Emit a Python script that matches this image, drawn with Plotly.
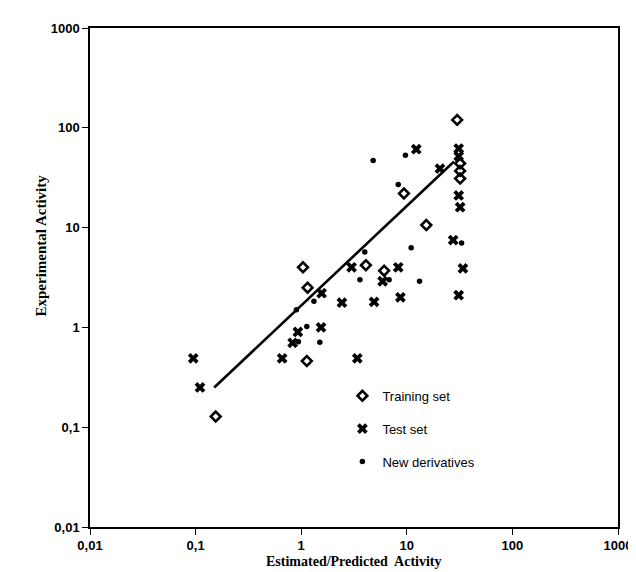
import plotly.graph_objects as go

# Training set (diamonds)
train_x = [30, 32, 32, 32, 9.4, 15.3, 6.1, 4.1, 1.04, 1.15, 1.13, 0.155]
train_y = [120, 44, 37, 31, 22, 10.6, 3.7, 4.2, 4.0, 2.5, 0.46, 0.128]

# Test set (crosses)
test_x = [31, 31, 12.3, 20.6, 31, 32, 27.5, 34, 31, 8.3, 5.9, 3.0, 1.56, 2.43, 4.9, 8.7,
          0.93, 1.54, 0.83, 0.095, 0.11, 0.66, 3.4]
test_y = [62, 52, 61, 39, 21, 16, 7.5, 3.9, 2.1, 4.0, 2.9, 4.0, 2.2, 1.77, 1.8, 2.0,
          0.9, 1.0, 0.7, 0.49, 0.25, 0.49, 0.49]

# New derivatives (dots)
new_x = [9.7, 4.8, 8.3, 11, 13.2, 6.8, 4.0, 3.6, 1.32, 0.9, 0.94, 1.5, 33, 1.13]
new_y = [53, 47, 27, 6.3, 2.9, 3.0, 5.7, 3.0, 1.83, 1.5, 0.72, 0.71, 7, 1.02]

# Regression line
fit_x = [0.15, 28]
fit_y = [0.25, 46]

tick_vals = [0.01, 0.1, 1, 10, 100, 1000]
tick_text = ["0,01", "0,1", "1", "10", "100", "1000"]

fig = go.Figure()
fig.add_trace(go.Scatter(x=fit_x, y=fit_y, mode="lines", line=dict(color="black", width=2.6),
                         showlegend=False, hoverinfo="skip"))
fig.add_trace(go.Scatter(x=train_x, y=train_y, mode="markers", name="Training set",
                         legendgroup="a",
                         marker=dict(symbol="diamond-open", size=7.5, color="black",
                                     line=dict(width=2.6, color="black"))))
fig.add_trace(go.Scatter(x=test_x, y=test_y, mode="markers", name="Test set",
                         legendgroup="b",
                         marker=dict(symbol="x", size=9.5, color="black",
                                     line=dict(width=0))))
fig.add_trace(go.Scatter(x=new_x, y=new_y, mode="markers", name="New derivatives",
                         legendgroup="c",
                         marker=dict(symbol="circle", size=5.5, color="black")))

axis_common = dict(type="log", range=[-2, 3], tickvals=tick_vals, ticktext=tick_text,
                   showgrid=False, zeroline=False, showline=True, linecolor="black",
                   linewidth=1.5, mirror=True, ticks="outside", ticklen=6,
                   tickcolor="black",
                   tickfont=dict(family="Arial", size=13, color="black", weight="bold"))

fig.update_layout(
    width=636, height=572,
    margin=dict(l=82, r=20, t=20, b=53),
    paper_bgcolor="white", plot_bgcolor="white",
    xaxis=axis_common,
    yaxis=axis_common,
    legend=dict(x=0.478, y=0.293, xanchor="left", yanchor="top",
                bgcolor="rgba(0,0,0,0)", tracegroupgap=13,
                font=dict(family="Arial", size=13, color="black")),
    annotations=[
        dict(text="<b>Estimated/Predicted  Activity</b>", xref="paper", yref="paper",
             x=0.5, y=-0.07, xanchor="center", yanchor="middle", showarrow=False,
             font=dict(family="Times New Roman", size=14, color="black")),
        dict(text="<b>Experimental Activity</b>", xref="paper", yref="paper",
             x=-0.092, y=0.565, xanchor="center", yanchor="middle", showarrow=False,
             textangle=-90,
             font=dict(family="Times New Roman", size=15, color="black")),
    ],
)

fig.write_html("out.html")
